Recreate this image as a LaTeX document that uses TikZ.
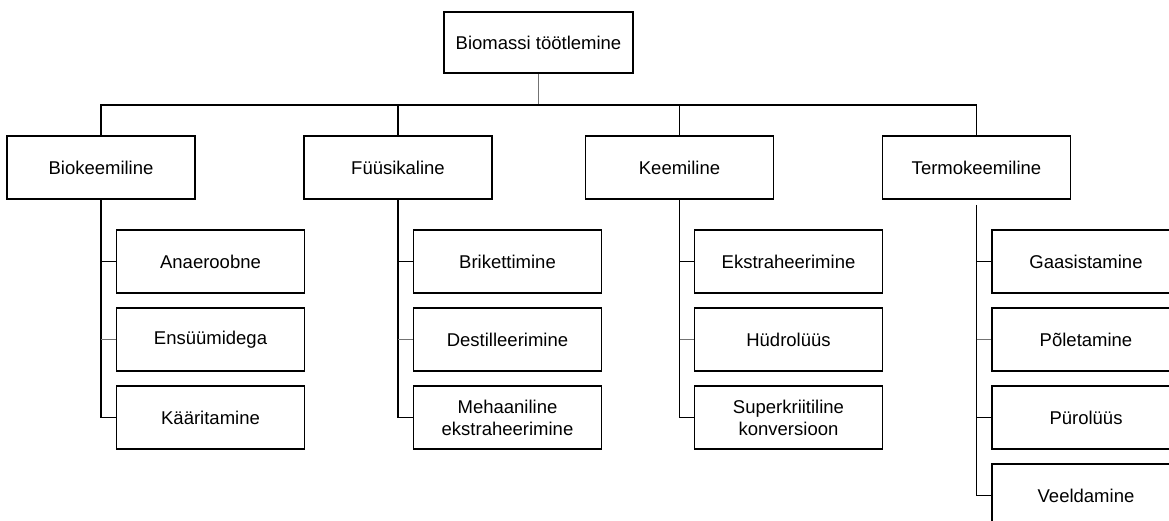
\documentclass[tikz,border=0pt]{standalone}
\usepackage{fontspec}
\setmainfont{Liberation Sans}
\begin{document}
\begin{tikzpicture}[x=1pt,y=-1pt,
  box/.style={draw=black,line width=1.6pt,minimum width=188pt,minimum height=63pt,
    inner sep=2pt,align=center,font=\fontsize{18.5}{22}\selectfont,fill=white},
  conn/.style={draw=black,line width=1.6pt},
  thinconn/.style={draw=black!55,line width=0.9pt}]
\useasboundingbox (0,0) rectangle (1169,521);
\clip (0,0) rectangle (1169,521);
\node[box,minimum width=189pt,minimum height=61pt] (root) at (538.5,42.5) {Biomassi töötlemine};
\coordinate (bus) at (0,105);
\node[box] (bio) at (101,167.5) {Biokeemiline};
\node[box] (fus) at (398,167.5) {Füüsikaline};
\node[box] (kee) at (679.5,167.5) {Keemiline};
\node[box] (ter) at (976.5,167.5) {Termokeemiline};
% children
\node[box] (b1) at (210.5,261.5) {Anaeroobne};
\node[box] (b2) at (210.5,339.5) {Ensüümidega};
\node[box] (b3) at (210.5,417.5) {Kääritamine};
\node[box] (f1) at (507.5,261.5) {Brikettimine};
\node[box] (f2) at (507.5,339.5) {Destilleerimine};
\node[box] (f3) at (507.5,417.5) {Mehaaniline\\ekstraheerimine};
\node[box] (k1) at (788.5,261.5) {Ekstraheerimine};
\node[box] (k2) at (788.5,339.5) {Hüdrolüüs};
\node[box] (k3) at (788.5,417.5) {Superkriitiline\\konversioon};
\node[box] (t1) at (1086,261.5) {Gaasistamine};
\node[box] (t2) at (1086,339.5) {Põletamine};
\node[box] (t3) at (1086,417.5) {Pürolüüs};
\node[box] (t4) at (1086,495.5) {Veeldamine};
% top connectors
\draw[thinconn] (root.south) -- (root.south |- bus);
\draw[conn] (bio.north) -- (bio.north |- bus) -- (ter.north |- bus) -- (ter.north);
\draw[conn] (fus.north) -- (fus.north |- bus);
\draw[conn] (kee.north) -- (kee.north |- bus);
% stems
\draw[conn] (bio.south) |- (b3.west);
\draw[conn] (bio.south |- b1.west) -- (b1.west);
\draw[thinconn] (bio.south |- b2.west) -- (b2.west);
\draw[conn] (fus.south) |- (f3.west);
\draw[conn] (fus.south |- f1.west) -- (f1.west);
\draw[thinconn] (fus.south |- f2.west) -- (f2.west);
\draw[conn] (kee.south) |- (k3.west);
\draw[conn] (kee.south |- k1.west) -- (k1.west);
\draw[thinconn] (kee.south |- k2.west) -- (k2.west);
\draw[conn] ([yshift=-5pt]ter.south) |- (t4.west);
\draw[conn] (ter.south |- t1.west) -- (t1.west);
\draw[thinconn] (ter.south |- t2.west) -- (t2.west);
\draw[conn] (ter.south |- t3.west) -- (t3.west);
\end{tikzpicture}
\end{document}
